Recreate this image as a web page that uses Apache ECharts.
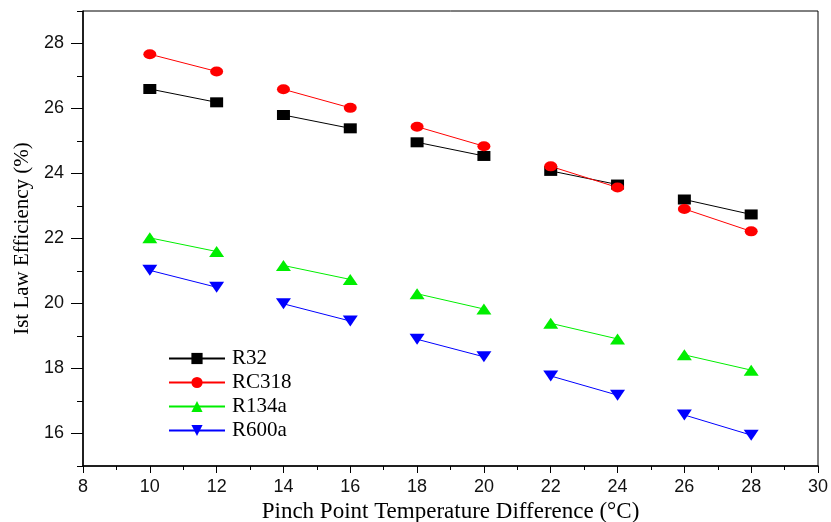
<!DOCTYPE html>
<html>
<head>
<meta charset="utf-8">
<script src="https://cdn.jsdelivr.net/npm/echarts@6/dist/echarts.min.js"></script>
<style>
    html, body { margin: 0; padding: 0; background: #fff; }
    #chart { width: 831px; height: 522px; }
</style>
</head>
<body>
<div id="chart"></div>
<script>
// pinch point temperature difference (°C)
var pinchPoints = [10, 12, 14, 16, 18, 20, 22, 24, 26, 28];
// 1st law efficiency (%)
var r32 = [26.6, 26.19, 25.8, 25.39, 24.96, 24.54, 24.08, 23.66, 23.2, 22.74];
var rc318 = [27.67, 27.14, 26.59, 26.02, 25.44, 24.84, 24.22, 23.57, 22.91, 22.22];
var r134a = [22.02, 21.6, 21.17, 20.74, 20.3, 19.83, 19.39, 18.91, 18.42, 17.95];
var r600a = [21.02, 20.5, 19.99, 19.46, 18.9, 18.36, 17.77, 17.18, 16.57, 15.95];
var yMajorTicks = [16, 18, 20, 22, 24, 26, 28];

var serif = '"Liberation Serif", "DejaVu Serif", serif';
var sans = '"Liberation Sans", Arial, sans-serif';

// points come in pairs, break the line between pairs
function pairs(values) {
    var out = [], i;
    for (i = 0; i < pinchPoints.length; i++) {
        out.push([pinchPoints[i], values[i]]);
        if (i % 2 === 1 && i < pinchPoints.length - 1) {
            out.push([pinchPoints[i] + 1, '-']);
        }
    }
    return out;
}

function makeSeries(name, values, color, symbol, size, rotate) {
    return {
        name: name,
        type: 'line',
        data: pairs(values),
        connectNulls: false,
        symbol: symbol,
        symbolSize: size,
        symbolRotate: rotate || 0,
        lineStyle: { color: color, width: 1 },
        itemStyle: { color: color },
        emphasis: { disabled: true },
        z: 3
    };
}

var chart = echarts.init(document.getElementById('chart'));
chart.setOption({
    animation: false,
    grid: {
        left: 83, top: 11, right: 13, bottom: 56,
        outerBoundsMode: 'none',
        show: true, borderColor: '#000', borderWidth: 1
    },
    legend: {
        orient: 'vertical',
        left: 168,
        top: 348,
        padding: 0,
        itemWidth: 56,
        itemHeight: 14,
        itemGap: 3,
        textStyle: { fontFamily: serif, fontSize: 21, color: '#000', padding: [0, 0, 0, 2] },
        data: ['R32', 'RC318', 'R134a', 'R600a']
    },
    xAxis: {
        type: 'value',
        min: 8, max: 30, interval: 2,
        name: 'Pinch Point Temperature Difference (°C)',
        nameLocation: 'middle',
        nameGap: 31,
        nameTextStyle: { fontFamily: serif, fontSize: 23, color: '#000' },
        axisLine: { lineStyle: { color: '#000', width: 1.5 } },
        axisTick: { length: 7, lineStyle: { color: '#000' } },
        minorTick: { show: true, splitNumber: 2, length: 4, lineStyle: { color: '#000' } },
        axisLabel: { fontFamily: sans, fontSize: 18, color: '#111', margin: 12 },
        splitLine: { show: false }
    },
    yAxis: [{
        type: 'value',
        min: 15, max: 29, interval: 1,
        name: 'Ist Law Efficiency (%)',
        nameLocation: 'middle',
        nameGap: 50,
        nameTextStyle: { fontFamily: serif, fontSize: 21, color: '#000' },
        axisLine: { lineStyle: { color: '#000', width: 1.5 } },
        axisTick: { length: 6, lineStyle: { color: '#000' } },
        axisLabel: {
            fontFamily: sans, fontSize: 18, color: '#111', margin: 19,
            formatter: function (v) { return v % 2 === 0 && v > 15 && v < 29 ? String(v) : ''; }
        },
        splitLine: { show: false }
    }, {
        type: 'value',
        position: 'left',
        min: 15, max: 29,
        axisLine: { show: false },
        axisTick: { show: true, length: 12, customValues: yMajorTicks, lineStyle: { color: '#000' } },
        axisLabel: { show: false },
        splitLine: { show: false }
    }],
    series: [
        makeSeries('R32', r32, '#000000', 'rect', [13, 10]),
        makeSeries('RC318', rc318, '#ff0000', 'circle', [13, 10]),
        makeSeries('R134a', r134a, '#00ee00', 'triangle', [15, 11]),
        makeSeries('R600a', r600a, '#0000ff', 'triangle', [15, 11], 180)
    ]
});
</script>
</body>
</html>
